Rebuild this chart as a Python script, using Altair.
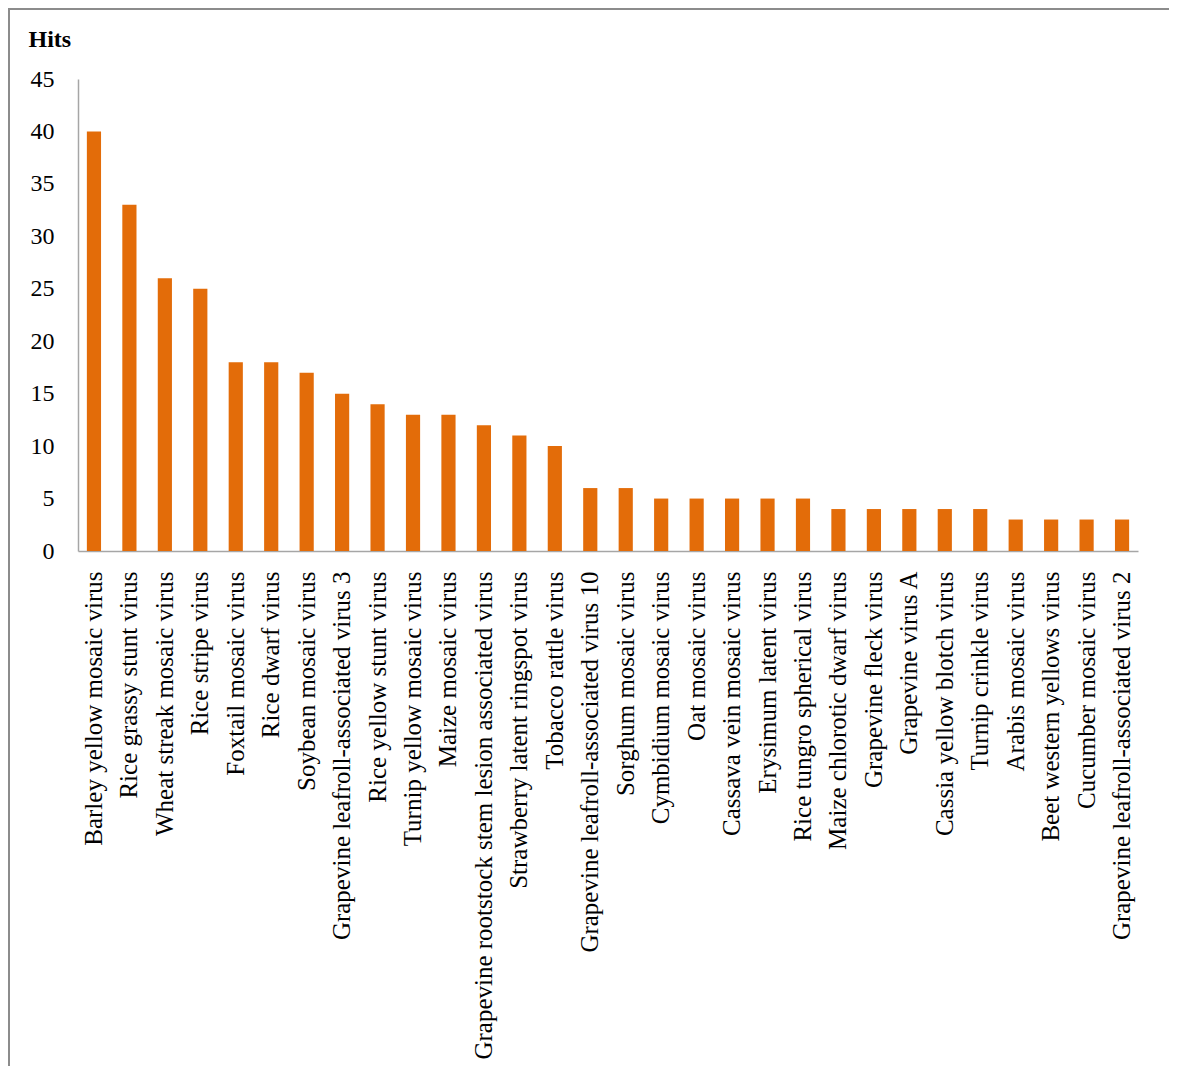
import altair as alt
import pandas as pd

viruses = [
    "Barley yellow mosaic virus",
    "Rice grassy  stunt virus",
    "Wheat streak mosaic virus",
    "Rice stripe virus",
    "Foxtail mosaic virus",
    "Rice dwarf virus",
    "Soybean mosaic virus",
    "Grapevine leafroll-associated virus 3",
    "Rice yellow stunt virus",
    "Turnip yellow mosaic virus",
    "Maize mosaic virus",
    "Grapevine rootstock stem lesion associated virus",
    "Strawberry latent ringspot virus",
    "Tobacco rattle virus",
    "Grapevine leafroll-associated virus 10",
    "Sorghum mosaic virus",
    "Cymbidium mosaic virus",
    "Oat mosaic virus",
    "Cassava vein mosaic virus",
    "Erysimum latent virus",
    "Rice tungro spherical virus",
    "Maize chlorotic dwarf virus",
    "Grapevine fleck virus",
    "Grapevine virus A",
    "Cassia yellow blotch virus",
    "Turnip crinkle virus",
    "Arabis mosaic virus",
    "Beet western yellows virus",
    "Cucumber mosaic virus",
    "Grapevine leafroll-associated virus 2",
]
hits = [40, 33, 26, 25, 18, 18, 17, 15, 14, 13, 13, 12, 11, 10, 6, 6,
        5, 5, 5, 5, 5, 4, 4, 4, 4, 4, 3, 3, 3, 3]
y_ticks = [0, 5, 10, 15, 20, 25, 30, 35, 40, 45]

df = pd.DataFrame({"virus": viruses, "hits": hits})

FONT = "Liberation Serif"
AXIS_GRAY = "#a6a6a6"

bars = alt.Chart(df).mark_bar(color="#E36C09").encode(
    x=alt.X(
        "virus:N",
        sort=viruses,
        scale=alt.Scale(paddingInner=0.6, paddingOuter=0.25),
        axis=alt.Axis(
            title=None,
            labelAngle=270,
            labelAlign="right",
            labelBaseline="middle",
            labelFont=FONT,
            labelFontSize=25,
            labelColor="#000000",
            labelPadding=20,
            labelLimit=0,
            labelOverlap=False,
            ticks=False,
            domainColor=AXIS_GRAY,
            domainWidth=1.5,
        ),
    ),
    y=alt.Y(
        "hits:Q",
        scale=alt.Scale(domain=[0, 45], nice=False),
        axis=alt.Axis(
            values=y_ticks,
            title="Hits",
            titleAngle=0,
            titleAlign="left",
            titleBaseline="alphabetic",
            titleX=-50,
            titleY=-33,
            titleFont=FONT,
            titleFontSize=24,
            titleFontWeight="bold",
            titleColor="#000000",
            labelFont=FONT,
            labelFontSize=24,
            labelColor="#000000",
            labelPadding=24,
            ticks=False,
            grid=False,
            domainColor=AXIS_GRAY,
            domainWidth=1.5,
        ),
    ),
)

frame_data = alt.Data(values=[{"a": 1}])
left_border = alt.Chart(frame_data).mark_rule(color="#8c8c8c", strokeWidth=2).encode(
    x=alt.value(-69), y=alt.value(-70), y2=alt.value(1100)
)
top_border = alt.Chart(frame_data).mark_rule(color="#8c8c8c", strokeWidth=2).encode(
    x=alt.value(-70), x2=alt.value(1091), y=alt.value(-70)
)

chart = alt.layer(bars, left_border, top_border).properties(
    width=1060,
    height=472,
    autosize=alt.AutoSizeParams(type="none"),
    padding={"left": 70, "top": 71, "right": 40, "bottom": 515},
).configure_view(stroke=None)

chart.save("out.html", embed_options={"renderer": "svg", "actions": False})
